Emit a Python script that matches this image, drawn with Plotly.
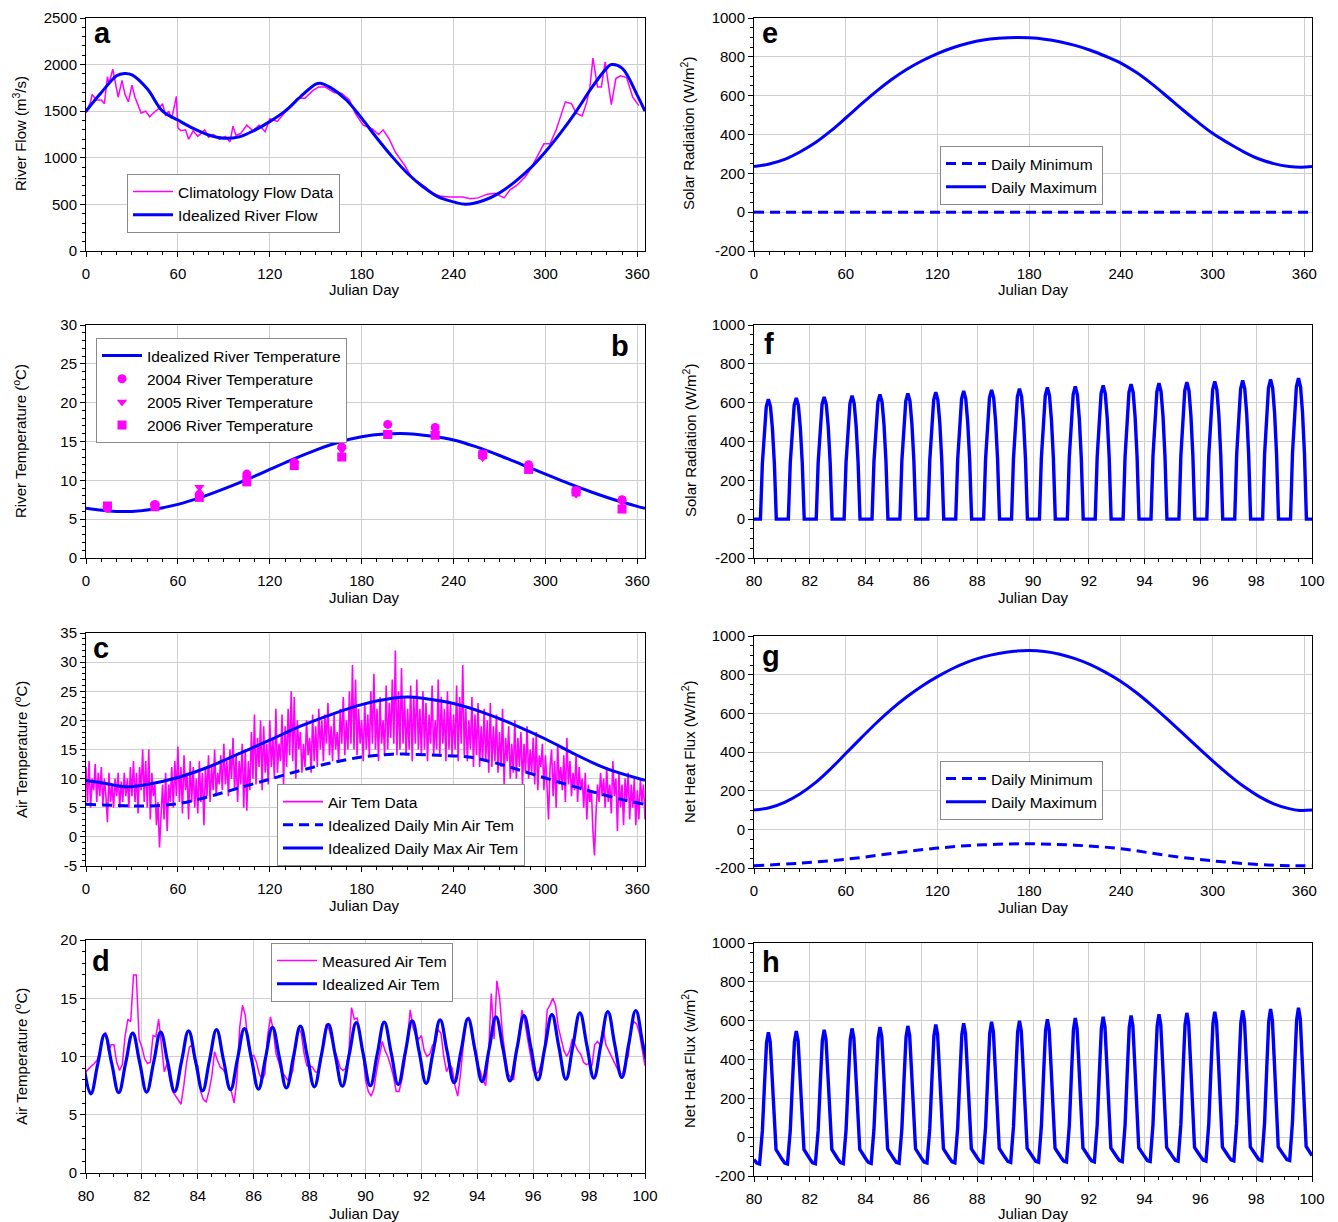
import plotly.graph_objects as go

W, H = 1338, 1222
FONT = "Arial"
BLUE = "#0000FF"
MAG = "#FF00FF"

# ---------------- panel a: river flow ----------------
flow_days = [0, 3, 4, 7, 10, 12, 14, 15, 17.5, 19.5,
             21, 23.5, 25.5, 27.7, 30, 32, 33.5, 36, 39, 41.5,
             44, 47, 50, 52, 54, 56, 59, 60, 62, 65,
             67, 70, 73, 77.5, 80, 83, 87, 91, 94, 96,
             98, 101, 105, 109, 113, 117, 120, 125, 129, 134,
             138, 143, 148, 152, 156, 162, 167, 172, 176, 181,
             187, 191, 194, 198, 202, 208, 213, 217, 222, 226,
             231, 237, 242, 246, 251, 256, 262, 267, 273, 277,
             281, 287, 291, 295, 299, 303, 307, 310, 313, 317,
             320, 324, 327, 329, 331, 334, 336.5, 339, 341, 343,
             346, 349, 353, 357, 361]
flow_vals = [1480, 1600, 1680, 1620, 1620, 1580, 1870, 1800, 1950, 1780,
             1650, 1830, 1680, 1600, 1780, 1650, 1580, 1480, 1500, 1440,
             1480, 1520, 1580, 1450, 1500, 1420, 1660, 1320, 1290, 1300,
             1200, 1290, 1230, 1300, 1220, 1250, 1200, 1230, 1170, 1340,
             1240, 1260, 1350, 1290, 1350, 1280, 1420, 1390, 1470, 1560,
             1640, 1640, 1720, 1760, 1760, 1700, 1690, 1620, 1470, 1350,
             1310, 1250, 1300, 1200, 1060, 920, 780, 740, 680, 620,
             590, 580, 580, 580, 560, 570, 610, 620, 570, 660,
             700, 800, 900, 1020, 1150, 1150, 1300, 1450, 1600, 1580,
             1480, 1450, 1600, 1750, 2070, 1760, 1760, 2030, 1800, 1570,
             1850, 1880, 1860, 1650, 1560]
ideal_flow_days = [0, 10, 20, 25, 30, 40, 50, 60, 70, 80, 90, 100, 110, 120, 130,
                   140, 150, 153, 160, 170, 180, 190, 200, 210, 220, 230, 240, 248,
                   260, 270, 280, 290, 300, 310, 320, 330, 340, 343, 350, 360, 365]
ideal_flow_vals = [1500, 1700, 1880, 1905, 1890, 1740, 1500, 1405, 1315, 1245, 1210, 1225,
                   1295, 1388, 1500, 1655, 1790, 1800, 1750, 1620, 1424, 1210, 1010, 832,
                   690, 580, 527, 502, 545, 624, 742, 886, 1065, 1270, 1496, 1747, 1962,
                   2000, 1962, 1670, 1500]

# ---------------- panel b: river temperature ----------------
river_t_days = [0, 15, 30, 45, 60, 75, 90, 105, 120, 135, 150, 165, 180, 195, 210, 225,
                240, 255, 270, 285, 300, 315, 330, 345, 360, 365]
river_t_vals = [6.4, 6.05, 6.0, 6.3, 6.9, 7.8, 8.9, 10.1, 11.4, 12.7, 13.9, 14.9, 15.6,
                15.95, 16.0, 15.7, 15.2, 14.3, 13.2, 12.0, 10.8, 9.6, 8.5, 7.5, 6.65, 6.4]
obs_days = [14, 45, 74, 105, 136, 167, 197, 228, 259, 289, 320, 350]
t2004 = [6.4, 6.9, 8.2, 10.8, 12.3, 14.3, 17.2, 16.8, 13.4, 12.0, 8.7, 7.5]
t2005 = [6.4, 6.7, 9.1, 10.3, 12.2, 13.9, 16.1, 16.0, 12.9, 11.6, 8.2, 7.2]
t2006 = [6.7, 6.6, 7.8, 9.8, 11.9, 13.0, 15.9, 15.8, 13.3, 11.4, 8.5, 6.3]

# ---------------- panel c: air temperature (annual) ----------------
air_vals = [12, 6, 13, 5, 10, 8, 12.5, 6, 11, 7,
            12, 5.5, 10, 7, 2.5, 11, 6, 9, 5, 10,
            7, 11, 5, 9.5, 6, 11, 7, 10, 5, 12,
            7, 13, 6, 11, 4, 12, 8, 15, 6, 13,
            5, 15, 3, 11, 7, 9, 2, 6, -1.8, 5,
            9, 3, 11, 1, 9, 6, 12, 5, 13, 7,
            15.5, 6, 12, 4, 14, 8, 11, 3, 13, 6,
            12, 5, 10, 4, 13, 6, 11, 2, 12, 7,
            14, 6, 12, 8, 15, 7, 11, 9, 14, 8,
            16, 9, 13, 7, 15, 10, 17, 8, 14, 6,
            13, 9, 16, 5, 15, 4.5, 13, 8, 18, 10,
            21, 9, 17, 12, 20, 8, 19, 11, 16, 9,
            20, 12, 17, 10, 22, 11, 16, 13, 21, 9,
            19, 12, 22, 14, 25, 13, 24, 10, 20, 15,
            18, 11, 16, 12, 20, 14, 17, 11, 21, 13,
            19, 12, 22, 15, 20, 13, 21, 16, 23, 14,
            19, 13, 21, 15, 18, 13, 22, 16, 24, 14,
            20, 15, 25, 16, 29.5, 15, 27, 14, 22, 16,
            20, 13, 23, 15, 21, 14, 25, 16, 28, 15,
            22, 13, 24, 16, 20, 14, 26, 15, 23, 17,
            27, 16, 32, 14, 25, 15, 29, 16, 24, 14,
            22, 15, 26, 13, 24, 16, 27, 15, 22, 14,
            25, 15, 23, 13, 21, 16, 26, 14, 20, 15,
            27, 14, 24, 16, 22, 13, 25, 15, 23, 14,
            21, 15, 26, 13, 24, 16, 29.5, 14, 22, 13,
            20, 15, 24, 12, 21, 14, 23, 12, 19, 13,
            22, 13, 20, 11, 23, 12, 19, 13, 21, 11,
            18, 12, 22, 9, 17, 13, 19, 10, 16, 11,
            20, 10, 17, 12, 18, 9, 16, 11, 19, 10,
            15, 11, 17, 9, 18, 8, 14, 12, 16, 8,
            14, 9, 3, 12, 15, 7, 13, 5, 16, 9,
            12, 8, 14, 6, 17, 9, 13, 7, 11, 8,
            14, 6, 12, 8, 10, 5, 11, 3, 9, 6,
            8, 1, -3.2, 4, 9, 6, 11, 7, 10, 5,
            12, 6, 9, 4, 13, 7, 10, 1, 11, 5,
            9, 2, 10, 6, 11, 3, 9, 5, 10, 2,
            8, 3, 10, 6, 9, 3]
air_days = list(range(len(air_vals)))
cmax_days = [0, 10, 20, 27, 40, 60, 80, 100, 120, 140, 160, 180, 200, 210, 220, 240,
             260, 280, 300, 320, 340, 365]
cmax_vals = [9.7, 9.3, 8.8, 8.6, 9.0, 10.2, 12.0, 14.3, 16.6, 19.0, 21.0, 22.7, 23.8,
             24.0, 23.8, 22.9, 21.3, 19.2, 16.8, 14.1, 11.7, 9.7]
cmin_days = [0, 20, 40, 60, 80, 100, 120, 140, 160, 180, 200, 210, 230, 250, 270, 290,
             310, 330, 350, 365]
cmin_vals = [5.6, 5.4, 5.3, 5.7, 6.9, 8.4, 9.9, 11.4, 12.7, 13.7, 14.2, 14.2, 14.0,
             13.7, 12.5, 10.9, 9.3, 7.8, 6.4, 5.6]

# ---------------- panel d: air temperature days 80-100 ----------------
meas_air = [8.7, 9.0, 9.2, 9.4, 9.7, 10.5, 11.5, 12.1, 10.5, 11.0,
            11.0, 9.5, 8.8, 9.3, 11.8, 13.2, 13.0, 17.0, 17.0, 11.5,
            10.8, 9.8, 9.4, 9.5, 11.8, 11.7, 13.2, 11.0, 8.7, 9.4,
            8.0, 7.0, 6.6, 6.2, 5.9, 7.5, 9.5, 10.8, 11.0, 9.5,
            9.2, 7.0, 6.3, 6.1, 7.0, 8.3, 10.4, 9.7, 9.1, 8.9,
            8.5, 7.6, 7.0, 6.0, 8.0, 12.5, 14.4, 13.5, 11.0, 10.0,
            10.1, 9.5, 8.5, 8.0, 8.5, 11.8, 13.4, 12.3, 10.2, 9.5,
            8.6, 8.4, 8.0, 8.1, 8.8, 11.0, 12.5, 12.0, 10.3, 9.2,
            9.2, 9.1, 8.7, 8.6, 9.5, 11.5, 12.8, 12.3, 11.3, 10.5,
            9.8, 9.0, 8.8, 9.0, 10.2, 14.2, 13.2, 13.3, 12.0, 10.5,
            8.0, 7.0, 6.6, 7.2, 8.8, 10.0, 11.3, 10.5, 10.0, 9.2,
            8.3, 7.0, 7.0, 8.0, 9.5, 11.5, 14.0, 12.5, 11.8, 11.5,
            11.8, 10.5, 10.0, 10.2, 11.0, 11.2, 12.3, 12.0, 10.0, 8.7,
            9.3, 9.0, 7.5, 6.6, 8.5, 11.0, 13.0, 13.4, 11.8, 10.5,
            9.3, 8.8, 8.0, 7.5, 10.0, 15.4, 11.5, 16.5, 15.0, 12.0,
            10.0, 8.5, 8.2, 8.0, 10.5, 12.0, 14.0, 13.0, 11.5, 10.0,
            8.8, 8.5, 8.7, 9.5, 10.5, 14.0, 14.4, 15.0, 14.4, 12.5,
            11.5, 10.5, 10.0, 10.5, 11.5, 11.0, 10.5, 10.2, 9.5, 9.3,
            9.4, 9.2, 11.0, 11.3, 11.0, 12.5, 11.0, 10.5, 10.0, 9.5,
            9.0, 8.5, 8.5, 9.5, 10.0, 12.5, 13.0, 12.8, 12.0, 10.5,
            9.2]
meas_hours = [round(80 + i / 10, 2) for i in range(len(meas_air))]
ideal_air_days = list(range(80, 100))
ideal_air_offsets = [0.17, 0.42, 0.67, 0.92]
ideal_air_rows = [[6.8, 9.35, 11.9, 9.4], [6.9, 9.45, 12.0, 9.5], [6.95, 9.5, 12.1, 9.55],
                  [7.0, 9.6, 12.2, 9.6], [7.05, 9.7, 12.3, 9.7], [7.15, 9.8, 12.4, 9.8],
                  [7.2, 9.85, 12.5, 9.9], [7.3, 9.95, 12.6, 10.0], [7.4, 10.1, 12.75, 10.1],
                  [7.45, 10.2, 12.9, 10.2], [7.5, 10.2, 12.95, 10.3], [7.6, 10.3, 13.05, 10.4],
                  [7.7, 10.4, 13.15, 10.45], [7.75, 10.5, 13.25, 10.55], [7.85, 10.6, 13.4, 10.65],
                  [7.9, 10.7, 13.5, 10.75], [8.0, 10.8, 13.6, 10.8], [8.05, 10.9, 13.75, 10.95],
                  [8.15, 11.0, 13.85, 11.0], [8.2, 11.1, 13.95, 11.1]]
ideal_air_start = (79.92, 9.3)
ideal_air_end = (100.17, 8.25)

# ---------------- panel e: solar radiation annual ----------------
solar_max_days = [0, 10, 20, 30, 40, 50, 60, 70, 80, 90, 100, 110, 120, 130, 140, 150, 160,
                  172, 180, 190, 200, 210, 220, 230, 240, 250, 260, 270, 280, 290, 300, 310,
                  320, 330, 340, 350, 358, 365]
solar_max_vals = [235, 248, 272, 310, 357, 417, 485, 555, 622, 683, 736, 780, 817, 847, 870,
                  887, 896, 900, 898, 891, 878, 859, 834, 803, 768, 720, 662, 597, 530, 466,
                  406, 357, 312, 275, 250, 235, 231, 235]
solar_min_days = [0, 365]
solar_min_vals = [0, 0]

# ---------------- panel f: solar radiation days 80-100 ----------------
pulse_days = list(range(80, 100))
solar_offsets = [0.23, 0.30, 0.37, 0.44, 0.515, 0.59, 0.66, 0.73, 0.80]
solar_rows = [[0, 287, 468, 580, 618, 580, 468, 287, 0],
              [0, 290, 473, 586, 624, 586, 473, 290, 0],
              [0, 292, 478, 592, 630, 592, 478, 292, 0],
              [0, 295, 482, 597, 636, 597, 482, 295, 0],
              [0, 298, 487, 603, 642, 603, 487, 298, 0],
              [0, 301, 491, 608, 648, 608, 491, 301, 0],
              [0, 303, 496, 614, 654, 614, 496, 303, 0],
              [0, 306, 500, 620, 660, 620, 500, 306, 0],
              [0, 309, 505, 625, 666, 625, 505, 309, 0],
              [0, 312, 509, 631, 672, 631, 509, 312, 0],
              [0, 315, 514, 637, 678, 637, 514, 315, 0],
              [0, 317, 518, 642, 684, 642, 518, 317, 0],
              [0, 320, 522, 647, 689, 647, 522, 320, 0],
              [0, 322, 527, 653, 695, 653, 527, 322, 0],
              [0, 325, 531, 657, 700, 657, 531, 325, 0],
              [0, 327, 534, 662, 705, 662, 534, 327, 0],
              [0, 329, 538, 667, 710, 667, 538, 329, 0],
              [0, 332, 542, 671, 715, 671, 542, 332, 0],
              [0, 334, 546, 676, 720, 676, 546, 334, 0],
              [0, 337, 550, 682, 726, 682, 550, 337, 0]]

# ---------------- panel g: net heat flux annual ----------------
net_max_days = [0, 10, 20, 30, 40, 50, 60, 70, 80, 90, 100, 110, 120, 130, 140, 150, 160,
                170, 180, 190, 200, 210, 220, 230, 240, 250, 260, 270, 280, 290, 300, 310,
                320, 330, 340, 350, 357, 365]
net_max_vals = [100, 112, 140, 183, 240, 312, 392, 472, 550, 622, 686, 742, 790, 832, 866,
                892, 910, 921, 925, 920, 906, 883, 852, 812, 765, 708, 643, 573, 500, 426,
                354, 286, 224, 172, 132, 107, 98, 100]
net_min_days = [0, 30, 60, 90, 120, 150, 180, 210, 240, 270, 300, 330, 350, 365]
net_min_vals = [-188, -175, -155, -125, -97, -80, -75, -82, -100, -135, -163, -182, -188, -188]

# ---------------- panel h: net heat flux days 80-100 ----------------
net_offsets = [0.0, 0.1, 0.2, 0.3, 0.38, 0.45, 0.515, 0.58, 0.65, 0.72, 0.79]
net_rows = [[-115, -133, -138, 32, 282, 486, 540, 492, 310, 87, -64],
            [-113, -133, -138, 33, 287, 492, 547, 498, 315, 90, -63],
            [-112, -132, -137, 36, 291, 498, 553, 504, 319, 91, -63],
            [-111, -131, -136, 38, 296, 504, 560, 510, 324, 94, -62],
            [-110, -130, -135, 41, 300, 511, 567, 517, 328, 96, -61],
            [-109, -129, -134, 43, 304, 516, 573, 522, 332, 98, -60],
            [-108, -128, -133, 45, 309, 523, 580, 529, 337, 100, -60],
            [-107, -127, -132, 48, 314, 529, 587, 535, 342, 103, -59],
            [-106, -126, -131, 50, 319, 536, 594, 542, 346, 105, -58],
            [-105, -125, -130, 53, 323, 542, 600, 547, 350, 107, -57],
            [-104, -124, -129, 55, 327, 548, 607, 554, 355, 109, -57],
            [-103, -123, -128, 57, 331, 554, 613, 559, 359, 111, -56],
            [-102, -122, -127, 60, 336, 560, 620, 566, 364, 114, -55],
            [-101, -121, -126, 62, 341, 567, 627, 573, 368, 116, -54],
            [-100, -120, -125, 65, 345, 572, 633, 578, 372, 119, -53],
            [-99, -119, -124, 67, 350, 579, 640, 585, 377, 120, -53],
            [-98, -118, -123, 69, 354, 584, 646, 590, 381, 123, -52],
            [-97, -117, -122, 72, 359, 591, 653, 597, 385, 125, -51],
            [-96, -116, -121, 74, 363, 598, 660, 603, 390, 128, -50],
            [-95, -115, -120, 77, 368, 604, 667, 610, 395, 131, -48]]
net_end = (100.0, -95)


def expand(days, offsets, rows):
    xs, ys = [], []
    for d, row in zip(days, rows):
        for o, v in zip(offsets, row):
            xs.append(round(d + o, 3))
            ys.append(v)
    return xs, ys


# ---------------- layout helpers ----------------
def fx(px):
    return px / W


def fy(py):
    return 1 - py / H


LEFT = [fx(86), fx(645)]
RIGHT = [fx(754), fx(1312)]
ROWS_L = [(18, 251), (325, 558), (633, 866), (940, 1173)]
ROWS_R = [(18, 251), (325, 558), (636, 868), (943, 1176)]

tickfont = dict(family=FONT, size=15, color="black")


def xaxis(dom, anchor, rng, dtick, minor):
    return dict(domain=dom, anchor=anchor, range=rng, dtick=dtick, tick0=rng[0],
                automargin=False,
                showline=True, linecolor="black", linewidth=1, mirror=True,
                ticks="outside", ticklen=5, tickcolor="black", ticklabelstandoff=4,
                showgrid=True, gridcolor="#cfcfcf", gridwidth=1, zeroline=False,
                tickfont=tickfont,
                minor=dict(dtick=minor, ticks="outside", ticklen=3, tickcolor="black",
                           showgrid=False))


def yaxis(dom, anchor, rng, dtick, minor):
    vals = []
    v = rng[0]
    while v <= rng[1] + 1e-9:
        vals.append(v)
        v += dtick
    return dict(domain=dom, anchor=anchor, range=rng, automargin=False,
                tickmode="array", tickvals=vals, ticktext=[str(t) for t in vals],
                showline=True, linecolor="black", linewidth=1, mirror=True,
                ticks="outside", ticklen=5, tickcolor="black",
                showgrid=True, gridcolor="#cfcfcf", gridwidth=1, zeroline=False,
                tickfont=tickfont,
                minor=dict(dtick=minor, tick0=0, ticks="outside", ticklen=3,
                           tickcolor="black", showgrid=False))


fig = go.Figure()

# panel a
fig.add_trace(go.Scatter(x=flow_days, y=flow_vals, mode="lines", name="Climatology Flow Data",
                         line=dict(color=MAG, width=1.5), xaxis="x", yaxis="y", legend="legend"))
fig.add_trace(go.Scatter(x=ideal_flow_days, y=ideal_flow_vals, mode="lines",
                         name="Idealized River Flow",
                         line=dict(color=BLUE, width=3, shape="spline", smoothing=1.0),
                         xaxis="x", yaxis="y", legend="legend"))
# panel b
fig.add_trace(go.Scatter(x=river_t_days, y=river_t_vals, mode="lines",
                         name="Idealized River Temperature", legendrank=1,
                         line=dict(color=BLUE, width=3, shape="spline"),
                         xaxis="x2", yaxis="y2", legend="legend2"))
for nm, vals, sym, rk in [("2004 River Temperature", t2004, "circle", 2),
                          ("2005 River Temperature", t2005, "triangle-down", 3),
                          ("2006 River Temperature", t2006, "square", 4)]:
    fig.add_trace(go.Scatter(x=obs_days, y=vals, mode="markers", name=nm, legendrank=rk,
                             marker=dict(color=MAG, size=9, symbol=sym),
                             xaxis="x2", yaxis="y2", legend="legend2"))
# panel c
fig.add_trace(go.Scatter(x=air_days, y=air_vals, mode="lines", name="Air Tem Data",
                         line=dict(color=MAG, width=1.6), xaxis="x3", yaxis="y3",
                         legend="legend3"))
fig.add_trace(go.Scatter(x=cmin_days, y=cmin_vals, mode="lines",
                         name="Idealized Daily Min Air Tem",
                         line=dict(color=BLUE, width=3, dash="10px,6px", shape="spline"),
                         xaxis="x3", yaxis="y3", legend="legend3"))
fig.add_trace(go.Scatter(x=cmax_days, y=cmax_vals, mode="lines",
                         name="Idealized Daily Max Air Tem",
                         line=dict(color=BLUE, width=3, shape="spline"),
                         xaxis="x3", yaxis="y3", legend="legend3"))
# panel d
ix, iy = expand(ideal_air_days, ideal_air_offsets, ideal_air_rows)
ix = [ideal_air_start[0]] + ix + [ideal_air_end[0]]
iy = [ideal_air_start[1]] + iy + [ideal_air_end[1]]
fig.add_trace(go.Scatter(x=meas_hours, y=meas_air, mode="lines", name="Measured Air Tem",
                         line=dict(color=MAG, width=1.5), xaxis="x4", yaxis="y4",
                         legend="legend4"))
fig.add_trace(go.Scatter(x=ix, y=iy, mode="lines", name="Idealized Air Tem",
                         line=dict(color=BLUE, width=3.2, shape="spline", smoothing=1.2),
                         xaxis="x4", yaxis="y4", legend="legend4"))
# panel e
fig.add_trace(go.Scatter(x=solar_min_days, y=solar_min_vals, mode="lines", name="Daily Minimum",
                         line=dict(color=BLUE, width=3, dash="10px,6px"),
                         xaxis="x5", yaxis="y5", legend="legend5"))
fig.add_trace(go.Scatter(x=solar_max_days, y=solar_max_vals, mode="lines", name="Daily Maximum",
                         line=dict(color=BLUE, width=3, shape="spline"),
                         xaxis="x5", yaxis="y5", legend="legend5"))
# panel f
sx, sy = expand(pulse_days, solar_offsets, solar_rows)
sx = [80] + sx + [100]
sy = [0] + sy + [0]
fig.add_trace(go.Scatter(x=sx, y=sy, mode="lines", showlegend=False,
                         line=dict(color=BLUE, width=3.4), xaxis="x6", yaxis="y6"))
# panel g
fig.add_trace(go.Scatter(x=net_min_days, y=net_min_vals, mode="lines", name="Daily Minimum",
                         line=dict(color=BLUE, width=3, dash="10px,6px", shape="spline"),
                         xaxis="x7", yaxis="y7", legend="legend6"))
fig.add_trace(go.Scatter(x=net_max_days, y=net_max_vals, mode="lines", name="Daily Maximum",
                         line=dict(color=BLUE, width=3, shape="spline"),
                         xaxis="x7", yaxis="y7", legend="legend6"))
# panel h
hx, hy = expand(pulse_days, net_offsets, net_rows)
hx = hx + [net_end[0]]
hy = hy + [net_end[1]]
fig.add_trace(go.Scatter(x=hx, y=hy, mode="lines", showlegend=False,
                         line=dict(color=BLUE, width=3.4), xaxis="x8", yaxis="y8"))

# axes
lay = {}
specs = [
    (1, LEFT, ROWS_L[0], [0, 365], 60, 10, [0, 2500], 500, 100),
    (2, LEFT, ROWS_L[1], [0, 365], 60, 10, [0, 30], 5, 1),
    (3, LEFT, ROWS_L[2], [0, 365], 60, 10, [-5, 35], 5, 1),
    (4, LEFT, ROWS_L[3], [80, 100], 2, 0.5, [0, 20], 5, 1),
    (5, RIGHT, ROWS_R[0], [0, 365], 60, 10, [-200, 1000], 200, 50),
    (6, RIGHT, ROWS_R[1], [80, 100], 2, 0.5, [-200, 1000], 200, 50),
    (7, RIGHT, ROWS_R[2], [0, 365], 60, 10, [-200, 1000], 200, 50),
    (8, RIGHT, ROWS_R[3], [80, 100], 2, 0.5, [-200, 1000], 200, 50),
]
for i, xdom, (top, bot), xr, xdt, xmin, yr, ydt, ymin in specs:
    sfx = "" if i == 1 else str(i)
    lay["xaxis" + sfx] = xaxis(xdom, "y" + sfx, xr, xdt, xmin)
    lay["yaxis" + sfx] = yaxis([fy(bot), fy(top)], "x" + sfx, yr, ydt, ymin)


def leg(xpx, ypx):
    return dict(x=fx(xpx), y=fy(ypx), xanchor="left", yanchor="top", bgcolor="white",
                bordercolor="#8a8a8a", borderwidth=1, tracegroupgap=0, itemwidth=40,
                font=dict(family=FONT, size=15.5, color="black"))


lay["legend"] = leg(127, 174)
lay["legend2"] = leg(96, 338)
lay["legend3"] = leg(277, 784)
lay["legend4"] = leg(271, 943)
lay["legend5"] = leg(940, 146)
lay["legend6"] = leg(940, 761)

ann = []
tfont = dict(family=FONT, size=15, color="black")
ytitles = [
    ("River Flow (m<sup>3</sup>/s)", 20, 134),
    ("River Temperature (<sup>o</sup>C)", 20, 441),
    ("Air Temperature (<sup>o</sup>C)", 20, 750),
    ("Air Temperature (<sup>o</sup>C)", 20, 1057),
    ("Solar Radiation (W/m<sup>2</sup>)", 688, 134),
    ("Solar Radiation (W/m<sup>2</sup>)", 690, 441),
    ("Net Heat Flux (W/m<sup>2</sup>)", 688, 752),
    ("Net Heat Flux (w/m<sup>2</sup>)", 688, 1059),
]
for t, x, y in ytitles:
    ann.append(dict(text=t, x=fx(x), y=fy(y), xref="paper", yref="paper", showarrow=False,
                    textangle=-90, xanchor="center", yanchor="middle", font=tfont))
for x, y in [(365, 290), (365, 597), (365, 905), (365, 1213),
             (1033, 290), (1033, 597), (1033, 907), (1033, 1213)]:
    ann.append(dict(text="Julian Day", x=fx(x), y=fy(y), xref="paper", yref="paper",
                    showarrow=False, xanchor="center", yanchor="middle", font=tfont))
lfont = dict(family=FONT, size=29, color="black")
for t, x, y in [("a", 102, 33), ("b", 620, 346), ("c", 101, 648), ("d", 101, 961),
                ("e", 770, 33), ("f", 769, 344), ("g", 771, 656), ("h", 771, 962)]:
    ann.append(dict(text="<b>" + t + "</b>", x=fx(x), y=fy(y), xref="paper", yref="paper",
                    showarrow=False, xanchor="center", yanchor="middle", font=lfont))

fig.update_layout(width=W, height=H, margin=dict(l=0, r=0, t=0, b=0, pad=0),
                  autosize=False,
                  paper_bgcolor="white", plot_bgcolor="white", showlegend=True,
                  annotations=ann, font=dict(family=FONT, size=15, color="black"), **lay)

fig.write_html("out.html",
               post_script="document.body.style.margin='0px';"
                           "document.body.style.overflow='hidden';")
